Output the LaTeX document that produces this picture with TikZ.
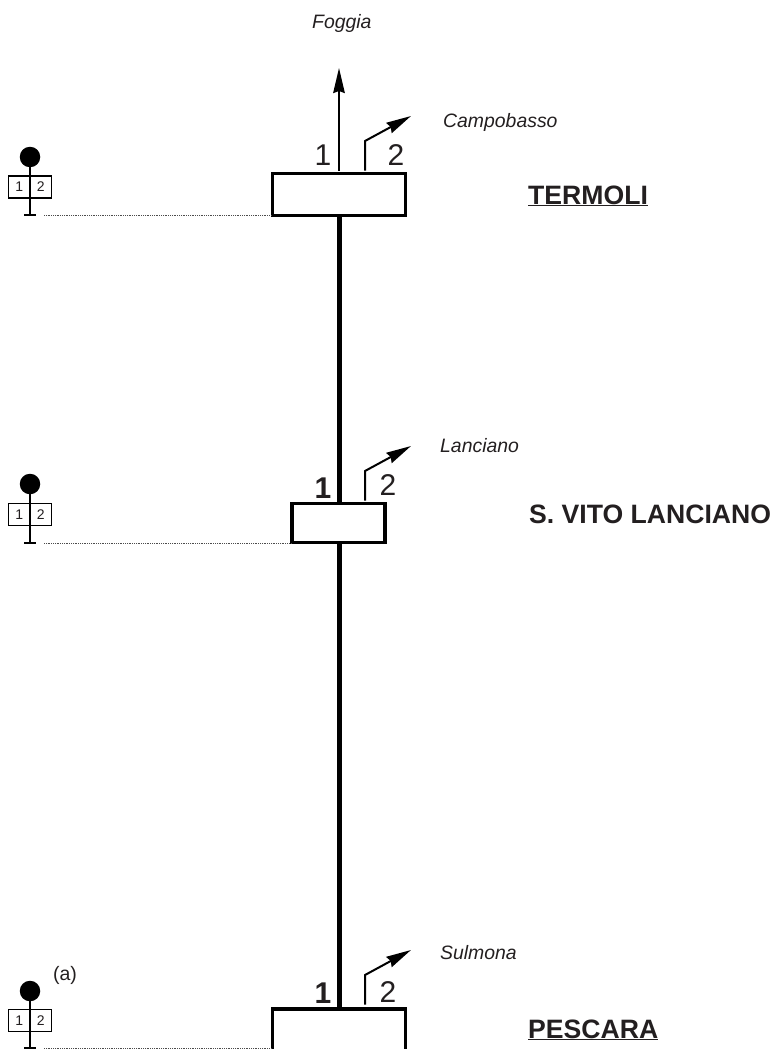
\documentclass[tikz,border=0pt]{standalone}
\usepackage{fontspec}
\setmainfont{Liberation Sans}
\usetikzlibrary{arrows.meta,positioning}
\definecolor{inkblack}{RGB}{35,31,32}

\begin{document}
\begin{tikzpicture}[x=1pt,y=-1pt]
  \tikzstyle{station}=[draw=black,line width=3.8pt,inner sep=0pt,outer sep=0pt]
  \tikzstyle{track}=[black,line width=5pt]
  \tikzstyle{branch}=[-{Stealth[length=25pt,width=11.5pt,inset=2pt]},black,line width=2pt,line join=miter]
  \tikzstyle{lamp}=[circle,fill=black,minimum size=20.5pt,inner sep=0pt]
  \tikzstyle{plate}=[draw=black,line width=1.5pt,minimum width=21.5pt,minimum height=22pt,inner sep=0pt,outer sep=0pt,text=inkblack,font=\fontsize{14}{14}\selectfont]
  \tikzstyle{num}=[inner sep=0pt,text=inkblack,font=\fontsize{30}{30}\selectfont]
  \tikzstyle{numbold}=[inner sep=0pt,text=inkblack,font=\fontsize{30}{30}\selectfont\bfseries]
  \tikzstyle{town}=[inner sep=0pt,text=inkblack,font=\fontsize{19.4}{19.4}\selectfont\itshape,anchor=base west]
  \tikzstyle{stname}=[inner sep=0pt,text=inkblack,font=\fontsize{26.6}{26.6}\selectfont\bfseries,anchor=base west]
  \useasboundingbox (0,0) rectangle (775,1049);
  % Stations on the line
  \node[station,minimum width=133pt,minimum height=42pt] (termoli) at (339,194.5) {};
  \node[station,minimum width=93.5pt,minimum height=39pt] (vito) at (338.5,523) {};
  \node[station,minimum width=133pt,minimum height=42pt] (pescara) at (339,1030) {};
  % Main line between stations
  \draw[track] (termoli.south) -- (termoli.south |- vito.north);
  \draw[track] (termoli.south |- vito.south) -- (pescara.north);
  % Branches leaving each station
  \coordinate (foggia) at (339,68);
  \coordinate (termolia) at (339,170.5);
  \foreach \st/\ya/\yb/\yc/\en in {termolib/170.5/141/116/campo,vitob/500.5/471/446/lanc,pescarab/1004.5/975/950/sulm}{
    \coordinate (\st) at (365,\ya);
    \coordinate (\st k) at (365,\yb);
    \coordinate (\en) at (411,\yc);
    \draw[branch] (\st) -- (\st k) -- (\en);
  }
  \draw[branch] (termolia) -- (foggia);
  % Track numbers
  \node[num] (numa) at (323,155) {1};
  \node[num] (numb) at (396,155) {2};
  \node[numbold] (numc) at (323,488) {1};
  \node[num] (numd) at (388,485.5) {2};
  \node[numbold] (nume) at (323,993) {1};
  \node[num] (numf) at (388,992) {2};
  % Signals on the left
  \foreach \nm/\ya/\yb/\yc/\st in {siga/157/187/215/termoli,sigb/484/514.5/543/vito,sigc/991/1020.5/1048/pescara}{
    \node[lamp] (\nm) at (30,\ya) {};
    \node[plate] (\nm l) at (19.2,\yb) {1};
    \node[plate] (\nm r) at (40.7,\yb) {2};
    \coordinate (\nm f) at (30,\yc);
    \coordinate (\nm d) at (44,\yc);
    \draw[black,line width=1.5pt] (\nm) -- (\nm f);
    \draw[black,line width=2pt] ([xshift=-6pt]\nm f) -- ([xshift=6pt]\nm f);
    \draw[black!70,line width=0.9pt,dash pattern=on 1pt off 0.8pt] (\nm d) -- (\st.west |- \nm d);
  }
  \node[inner sep=0pt,text=inkblack,font=\fontsize{19.5}{19.5}\selectfont] (note) at (65,975) {(a)};
  % Names of places
  \node[town] (labf) at (312,29) {Foggia};
  \node[town] (labc) at (443,127) {Campobasso};
  \node[town] (labl) at (440,452) {Lanciano};
  \node[town] (labs) at (440,959) {Sulmona};
  \node[stname] (namea) at (528,204) {\underline{TERMOLI}};
  \node[stname] (nameb) at (529,523) {S. VITO LANCIANO};
  \node[stname] (namec) at (528,1038) {\underline{PESCARA}};
\end{tikzpicture}
\end{document}
